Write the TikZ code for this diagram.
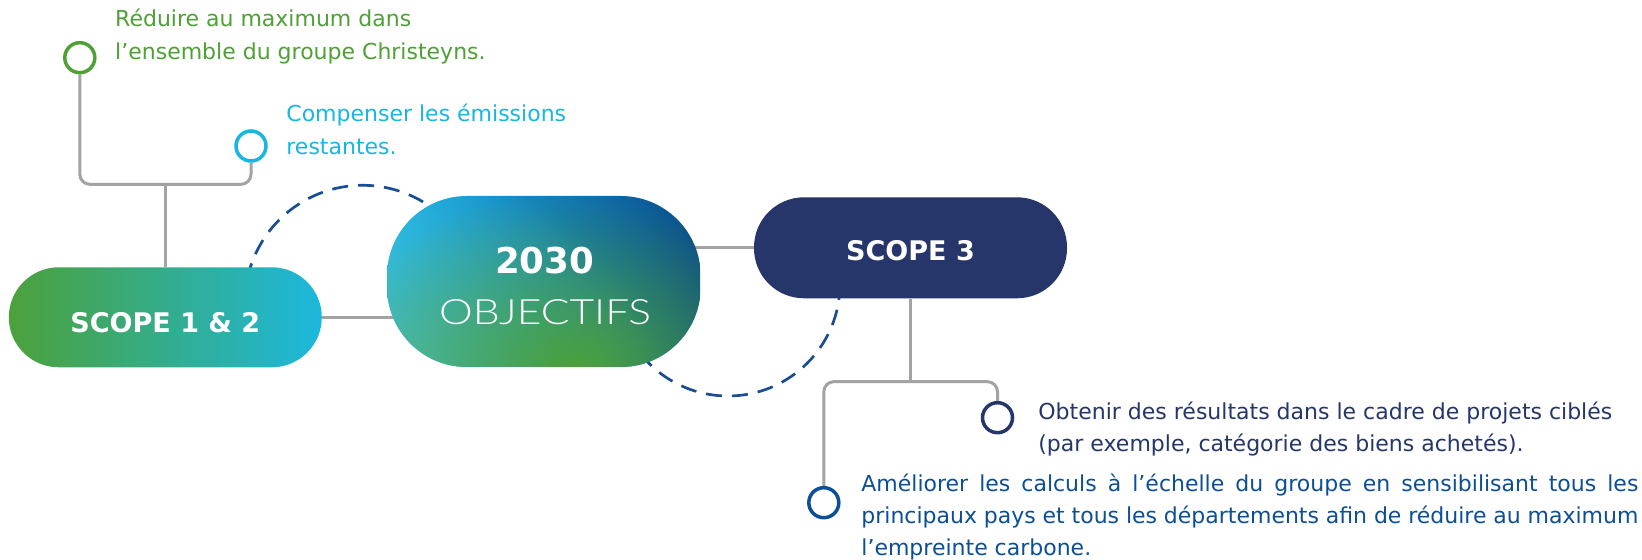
\documentclass[tikz,border=0pt]{standalone}
\usepackage{fontspec}
\setmainfont{DejaVu Sans}
\newfontfamily\lightfont{Lato Light}[FakeStretch=1.22]
\usetikzlibrary{fadings}
\definecolor{cgreen}{HTML}{4FA136}
\definecolor{ccyan}{HTML}{19B5E3}
\definecolor{cnavy}{HTML}{26366B}
\definecolor{cblue}{HTML}{0D4F97}
\definecolor{cgray}{HTML}{A3A3A3}
\definecolor{cdash}{HTML}{1A4E94}
\definecolor{gA}{HTML}{1EB8EA}
\definecolor{gB}{HTML}{0198CB}
\definecolor{gC}{HTML}{06478F}
\definecolor{gTeal}{HTML}{4DBFC8}
\definecolor{gGreen}{HTML}{4CA236}
\definecolor{sL}{HTML}{4CA13A}
\definecolor{sR}{HTML}{1CB8DD}
\tikzfading[name=fadeblob, inner color=transparent!0, outer color=transparent!100]
\pgfdeclarelayer{bg}
\pgfsetlayers{bg,main}
\begin{document}
\begin{tikzpicture}[x=0.5pt, y=-0.5pt,
  conn/.style={draw=cgray, line width=1.5pt, rounded corners=5pt},
  leaf/.style={circle, draw=#1, fill=white, line width=1.75pt, minimum size=15pt, inner sep=0pt},
  pill/.style={rectangle, rounded corners=25pt, inner sep=0pt, minimum width=156.5pt, minimum height=50pt,
    text=white, font=\fontsize{13.5}{16}\selectfont\bfseries},
  dasharc/.style={draw=cdash, line width=1.35pt, dash pattern=on 8pt off 5pt},
  txt/.style={inner sep=0pt, anchor=base west},
  ttl/.style={inner sep=0pt, anchor=base, text=white}
]
\useasboundingbox (0,0) rectangle (1642,560);
\begin{pgfonlayer}{bg}
\fill[white] (0,0) rectangle (1642,560);
\end{pgfonlayer}

% 2030 gradient body
\begin{scope}
  \clip[rounded corners=40pt] (387,196) rectangle (700.7,367);
  \shade[left color=gA, middle color=gB, right color=gC] (387,196) rectangle (701,367);
  \fill[gTeal, path fading=fadeblob] (400,370) ellipse [x radius=260, y radius=200];
  \fill[gGreen, path fading=fadeblob] (575,375) ellipse [x radius=250, y radius=185];
\end{scope}

% nodes
\node[pill, left color=sL, right color=sR, text height=15pt, text depth=0pt] (s12) at (165.3,317.3) {SCOPE 1 \& 2};
\node[rectangle, rounded corners=40pt, minimum width=156.85pt, minimum height=85.5pt, inner sep=0pt] (obj) at (543.85,281.5) {};
\node[pill, fill=cnavy, text height=13.2pt, text depth=0pt, minimum height=50.5pt] (s3) at (910.5,247.8) {SCOPE 3};

\node[ttl, font=\fontsize{17.8}{20}\selectfont\bfseries] (t2030) at (544.7,273.3) {2030};
\node[ttl, font=\fontsize{17.45}{20}\selectfont\lightfont] (tobj) at (545,325) {OBJECTIFS};

\node[leaf=cgreen] (g1) at (79.8,57.7) {};
\node[leaf=ccyan] (c1) at (251,146) {};
\node[leaf=cnavy] (n1) at (997.5,417.7) {};
\node[leaf=cblue] (b1) at (823.8,502.7) {};

\coordinate (bar12) at (165.3,184.3);
\coordinate (bar3) at (910.5,381.7);

% texts
\node[txt, text=cgreen] (tg) at (114.8,26.7) {\parbox[t]{200pt}{\fontsize{11}{16.3}\selectfont R\'eduire au maximum dans\\l’ensemble du groupe Christeyns.}};
\node[txt, text=ccyan] (tc) at (286,121.7) {\parbox[t]{170pt}{\fontsize{11}{16.2}\selectfont Compenser les \'emissions\\restantes.}};
\node[txt, text=cnavy] (tn) at (1038,420) {\parbox[t]{300pt}{\fontsize{11}{16}\selectfont Obtenir des r\'esultats dans le cadre de projets cibl\'es\\(par exemple, cat\'egorie des biens achet\'es).}};
\node[txt, text=cblue] (tb) at (861,491.7) {\parbox[t]{388.5pt}{\fontsize{11}{16}\selectfont
  \makebox[388.5pt][s]{Am\'eliorer les calculs \`a l’\'echelle du groupe en sensibilisant tous les}\\
  \makebox[388.5pt][s]{principaux pays et tous les d\'epartements afin de r\'eduire au maximum}\\
  l’empreinte carbone.}};

% connectors and dashed arcs
\begin{pgfonlayer}{bg}
  \draw[dasharc] (362.7,303.3) ++(-168:118) arc[start angle=-168, end angle=-50, radius=118];
  \draw[dasharc] (728,284) ++(0:112) arc[start angle=0, end angle=145, radius=112];
  \draw[conn] (g1.south) -- (g1.south |- bar12) -- (c1.south |- bar12) -- (c1.south);
  \draw[conn] (s12.north) -- (s12.north |- bar12);
  \draw[conn] (s12.east) -- ([xshift=15pt]s12.east -| obj.west);
  \draw[conn] (s3.west) -- ([xshift=-15pt]s3.west -| obj.east);
  \draw[conn] (s3.south) -- (s3.south |- bar3);
  \draw[conn] (b1.north) -- (b1.north |- bar3) -- (n1.north |- bar3) -- (n1.north);
\end{pgfonlayer}
\end{tikzpicture}
\end{document}
